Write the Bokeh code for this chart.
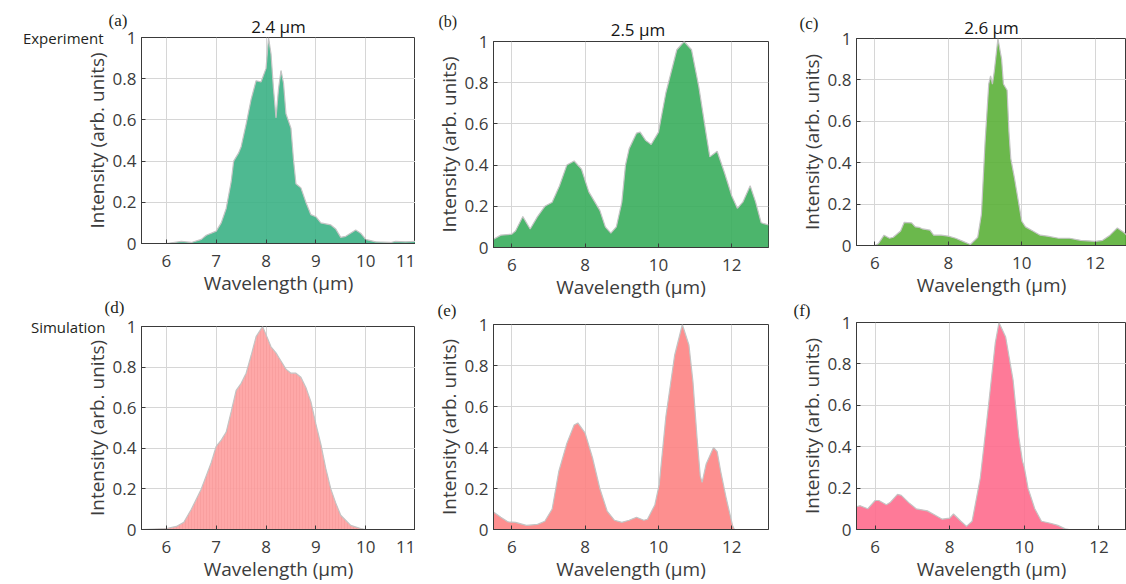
from bokeh.plotting import figure
from bokeh.layouts import column, row
from bokeh.models import FixedTicker, Label, LinearAxis
from bokeh.embed import file_html
from bokeh.resources import INLINE

# ---------------- data ----------------
a_x = [5.5, 6.0, 6.3, 6.5, 6.7, 6.8, 7.0, 7.1, 7.2, 7.3, 7.35, 7.45, 7.5, 7.6, 7.7, 7.8, 7.9, 8.0, 8.05,
       8.1, 8.15, 8.2, 8.25, 8.3, 8.35, 8.4, 8.5, 8.55, 8.6, 8.7, 8.8, 8.9, 9.0, 9.1, 9.3, 9.4, 9.5, 9.6,
       9.8, 9.9, 10.0, 10.2, 10.5, 10.6, 10.8, 11.0]
a_y = [0, 0, 0.01, 0.005, 0.02, 0.04, 0.06, 0.10, 0.17, 0.30, 0.40, 0.44, 0.47, 0.58, 0.70, 0.79, 0.785, 0.85, 1.0,
       0.92, 0.75, 0.61, 0.75, 0.84, 0.78, 0.63, 0.56, 0.41, 0.29, 0.27, 0.20, 0.14, 0.13, 0.10, 0.09, 0.07, 0.03, 0.035,
       0.065, 0.05, 0.02, 0.008, 0.005, 0.01, 0.008, 0.01]

b_x = [5.5, 5.7, 6.0, 6.1, 6.3, 6.5, 6.7, 6.9, 7.1, 7.3, 7.5, 7.7, 7.9, 8.1, 8.4, 8.55, 8.7, 8.85, 9.0, 9.1,
       9.2, 9.4, 9.5, 9.65, 9.8, 10.0, 10.2, 10.5, 10.7, 10.9, 11.1, 11.3, 11.4, 11.6, 11.8, 12.0, 12.15, 12.3,
       12.5, 12.65, 12.8, 13.0]
b_y = [0.04, 0.06, 0.065, 0.08, 0.15, 0.09, 0.15, 0.20, 0.22, 0.30, 0.40, 0.42, 0.38, 0.27, 0.18, 0.10, 0.07, 0.10, 0.22, 0.40,
       0.48, 0.555, 0.56, 0.52, 0.50, 0.56, 0.75, 0.96, 1.0, 0.96, 0.78, 0.55, 0.44, 0.467, 0.363, 0.25, 0.19, 0.22,
       0.30, 0.22, 0.12, 0.11]

c_x = [5.5, 6.0, 6.1, 6.25, 6.4, 6.5, 6.7, 6.8, 7.0, 7.1, 7.2, 7.3, 7.5, 7.6, 7.8, 8.0, 8.2, 8.4, 8.6, 8.8,
       8.9, 9.0, 9.1, 9.15, 9.2, 9.25, 9.35, 9.45, 9.5, 9.6, 9.65, 9.7, 9.8, 9.9, 10.0, 10.1, 10.3, 10.5, 10.7,
       11.0, 11.3, 11.6, 12.0, 12.2, 12.4, 12.6, 12.8, 13.0]
c_y = [0, 0, 0.01, 0.05, 0.035, 0.04, 0.07, 0.112, 0.109, 0.09, 0.088, 0.08, 0.074, 0.05, 0.05, 0.045, 0.035, 0.02, 0.005, 0.04,
       0.15, 0.50, 0.78, 0.82, 0.78, 0.84, 1.0, 0.90, 0.78, 0.75, 0.55, 0.42, 0.326, 0.22, 0.117, 0.09, 0.07, 0.05, 0.045,
       0.035, 0.035, 0.025, 0.02, 0.025, 0.05, 0.085, 0.06, 0.02]

d_x = [5.5, 6.0, 6.2, 6.35, 6.5, 6.7, 6.9, 7.0, 7.1, 7.2, 7.3, 7.4, 7.5, 7.6, 7.7, 7.8, 7.93, 8.0, 8.1, 8.2,
       8.3, 8.4, 8.5, 8.6, 8.7, 8.8, 8.9, 9.0, 9.1, 9.2, 9.3, 9.4, 9.5, 9.7, 9.9, 10.0, 11.0]
d_y = [0, 0.005, 0.015, 0.036, 0.10, 0.20, 0.33, 0.41, 0.44, 0.48, 0.58, 0.685, 0.72, 0.77, 0.857, 0.95, 1.0, 0.96, 0.90, 0.87,
       0.83, 0.79, 0.77, 0.77, 0.75, 0.70, 0.63, 0.52, 0.42, 0.30, 0.20, 0.13, 0.07, 0.02, 0.005, 0, 0]

e_x = [5.5, 5.7, 5.9, 6.1, 6.4, 6.7, 6.9, 7.1, 7.28, 7.5, 7.7, 7.8, 8.0, 8.2, 8.4, 8.6, 8.8, 9.0, 9.2, 9.4,
       9.6, 9.7, 9.9, 10.02, 10.2, 10.44, 10.65, 10.83, 10.94, 11.05, 11.14, 11.19, 11.3, 11.5, 11.6, 11.7, 11.85,
       12.02, 12.07, 13.0]
e_y = [0.085, 0.06, 0.037, 0.035, 0.02, 0.025, 0.04, 0.10, 0.283, 0.42, 0.51, 0.52, 0.47, 0.35, 0.20, 0.09, 0.045, 0.035, 0.045, 0.06,
       0.045, 0.05, 0.12, 0.22, 0.55, 0.85, 1.0, 0.90, 0.72, 0.45, 0.26, 0.23, 0.32, 0.40, 0.38, 0.28, 0.15,
       0.02, 0, 0]

f_x = [5.5, 5.6, 5.8, 6.0, 6.1, 6.3, 6.4, 6.6, 6.7, 6.9, 7.1, 7.4, 7.6, 7.8, 8.0, 8.1, 8.3, 8.45, 8.6, 8.82,
       9.04, 9.22, 9.32, 9.5, 9.7, 9.85, 9.95, 10.0, 10.1, 10.28, 10.46, 10.7, 10.9, 11.1, 11.2, 13.0]
f_y = [0.11, 0.115, 0.10, 0.14, 0.14, 0.12, 0.13, 0.17, 0.165, 0.13, 0.10, 0.09, 0.07, 0.05, 0.055, 0.075, 0.04, 0.015, 0.04, 0.25,
       0.60, 0.90, 1.0, 0.93, 0.72, 0.45, 0.33, 0.30, 0.20, 0.10, 0.04, 0.03, 0.02, 0.003, 0, 0]

y_ticks = [0, 0.2, 0.4, 0.6, 0.8, 1]
x_ticks_narrow = [6, 7, 8, 9, 10, 11]
x_ticks_wide = [6, 8, 10, 12]
titles = ["2.4 \u03bcm", "2.5 \u03bcm", "2.6 \u03bcm"]
letters = ["(a)", "(b)", "(c)", "(d)", "(e)", "(f)"]
row_names = ["Experiment", "Simulation"]

SANS = "Open Sans"
SERIF = "Liberation Serif"
TXT = "#3c3c3c"


def panel(xs, ys, color, xr, xticks, width, height, mbl, mbr, mbt, mbb, hatch=False):
    p = figure(width=width, height=height, x_range=xr, y_range=(0, 1),
               output_backend="svg", toolbar_location=None,
               min_border_left=mbl, min_border_right=mbr,
               min_border_top=mbt, min_border_bottom=mbb)
    p.background_fill_color = "white"
    p.border_fill_color = "white"
    p.outline_line_color = "#3a3a3a"
    p.outline_line_width = 1
    p.xaxis.ticker = FixedTicker(ticks=xticks)
    p.yaxis.ticker = FixedTicker(ticks=y_ticks)
    p.yaxis.major_label_overrides = {0: "0", 1: "1", 0.2: "0.2", 0.4: "0.4", 0.6: "0.6", 0.8: "0.8"}
    p.xaxis.axis_label = "Wavelength (\u03bcm)"
    p.yaxis.axis_label = "Intensity (arb. units)"
    for ax in (p.xaxis[0], p.yaxis[0]):
        ax.axis_line_color = "#3a3a3a"
        ax.major_tick_line_color = "#3a3a3a"
        ax.major_tick_in = 4
        ax.major_tick_out = 0
        ax.minor_tick_line_color = None
        ax.major_label_text_font = SANS
        ax.major_label_text_font_size = "17px"
        ax.major_label_text_color = TXT
        ax.axis_label_text_font = SANS
        ax.axis_label_text_font_size = "19px"
        ax.axis_label_text_font_style = "normal"
        ax.axis_label_text_color = TXT
    p.xaxis.major_label_standoff = 11
    p.xaxis.axis_label_standoff = 0
    p.yaxis.major_label_standoff = 5
    p.yaxis.axis_label_standoff = 0
    p.xgrid.ticker = FixedTicker(ticks=xticks)
    p.grid.grid_line_color = "#d6d6d6"
    p.grid.grid_line_width = 1
    p.title.text_font = SANS
    p.title.text_font_size = "17px"
    p.title.text_font_style = "normal"
    p.title.text_color = "#151515"
    p.title.standoff = 0
    p.title.align = "center"
    kw = {}
    if hatch:
        kw = dict(hatch_pattern="|", hatch_color="#f08f8f", hatch_alpha=0.35, hatch_scale=3, hatch_weight=1)
    p.varea(x=xs, y1=[0] * len(xs), y2=ys, fill_color=color, fill_alpha=0.9, **kw)
    p.line(xs, ys, line_color="#c4c4c4", line_width=1.2)
    return p


def row_name(p, text, standoff):
    ax = LinearAxis(ticker=FixedTicker(ticks=[1]), major_label_overrides={1: text},
                    axis_line_color=None, major_tick_line_color=None, minor_tick_line_color=None,
                    major_tick_out=0, major_tick_in=0,
                    major_label_standoff=standoff, major_label_text_font=SANS,
                    major_label_text_font_size="15px", major_label_text_color="#231f20")
    p.add_layout(ax, "left")


def text_label(p, side, x, text, xo, yo, font, size, align, color):
    p.add_layout(Label(x=x, y=1, x_offset=xo, y_offset=yo, text=text, text_font=font,
                       text_font_size=size, text_color=color, text_align=align,
                       text_baseline="middle"), side)


def letter(p, side, text, xo, yo, size="17px"):
    text_label(p, side, 5.5, text, xo, yo, SERIF, size, "left", "#231f20")


# column 1
pa = panel(a_x, a_y, "#3bb185", (5.5, 11), x_ticks_narrow, 415, 298, 140, 0, 37, 54)
pd = panel(d_x, d_y, "#fe9f9e", (5.5, 11), x_ticks_narrow, 415, 286, 140, 0, 28, 55, hatch=True)
# column 2
pb = panel(b_x, b_y, "#39ad5c", (5.5, 13), x_ticks_wide, 358, 302, 77, 5, 41, 53)
pe = panel(e_x, e_y, "#fd8383", (5.5, 13), x_ticks_wide, 358, 282, 78, 0, 22, 54)
# column 3
pc = panel(c_x, c_y, "#5bb039", (5.5, 12.85), x_ticks_wide, 353, 300, 81, 0, 38, 54)
pf = panel(f_x, f_y, "#fe6b8d", (5.5, 12.74), x_ticks_wide, 353, 284, 83, 0, 22, 54)

pa.title.text = titles[0]
pa.title.offset = 3.5
pc.title.text = titles[2]
pc.title.offset = 17
text_label(pb, "above", 9.44, titles[1], 0, 12, SANS, "17px", "center", "#151515")

row_name(pa, row_names[0], -23)
row_name(pd, row_names[1], -25)

letter(pa, "left", letters[0], -33, 17)
letter(pb, "above", letters[1], -55, 20, size="16px")
letter(pc, "left", letters[2], -57, 15)
letter(pd, "above", letters[3], -37, 19)
letter(pe, "above", letters[4], -56, 14)
letter(pf, "above", letters[5], -63, 12)

layout = row(column(pa, pd), column(pb, pe), column(pc, pf))

open("out.html", "w").write(file_html(layout, INLINE))
